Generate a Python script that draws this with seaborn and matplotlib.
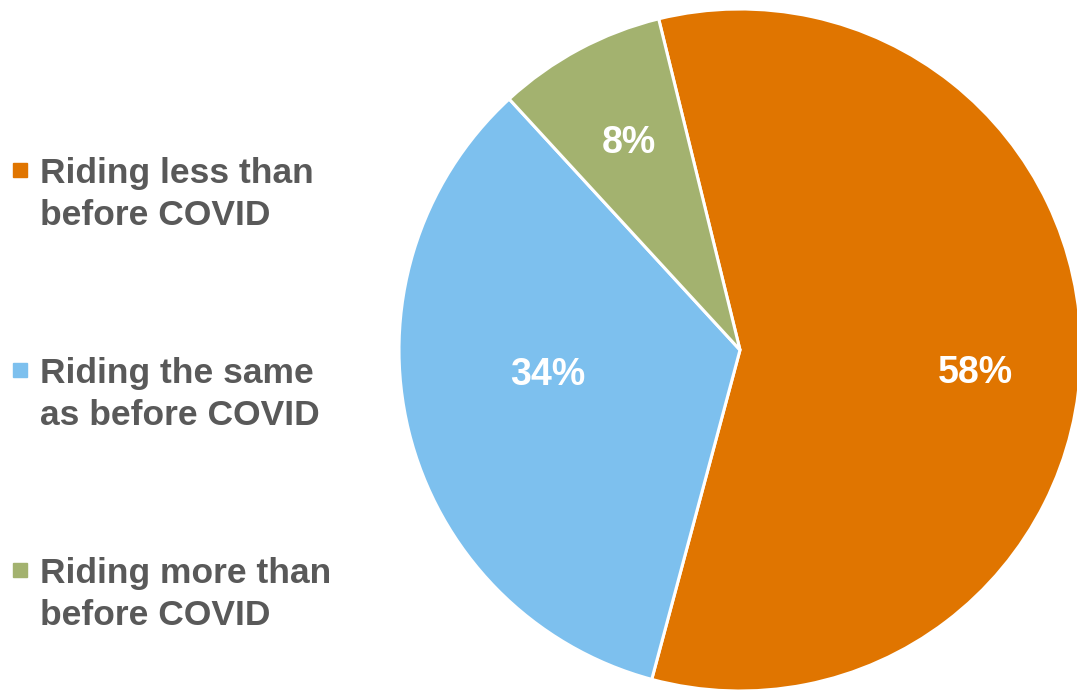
import matplotlib
matplotlib.use("Agg")
import matplotlib.pyplot as plt
import seaborn as sns
from matplotlib.patches import Rectangle

categories = ["Riding less than\nbefore COVID",
              "Riding the same\nas before COVID",
              "Riding more than\nbefore COVID"]
shares = [58, 34, 8]
colors = ["#E07500", "#7DC0EE", "#A3B26F"]

sns.set_theme(style="white")
plt.rcParams['font.family'] = ['Liberation Sans', 'DejaVu Sans']

fig = plt.figure(figsize=(10.77, 6.93), dpi=100)
# pie centre ~ (740, 350) px, radius ~ 341 px
ax = fig.add_axes([399 / 1077, 2 / 693, 682 / 1077, 682 / 693])

wedges, texts, autotexts = ax.pie(
    shares, colors=colors, startangle=103.8, counterclock=False,
    autopct="%1.0f%%", pctdistance=0.69,
    wedgeprops={'edgecolor': 'white', 'linewidth': 2.2},
    textprops={'color': 'white', 'fontsize': 27, 'fontweight': 'bold'})
ax.set_xlim(-1, 1)
ax.set_ylim(-1, 1)
ax.set_aspect('equal')

# Excel puts the blue label a bit closer to the centre
x, y = autotexts[1].get_position()
autotexts[1].set_position((x * 0.84, y * 0.45))
x, y = autotexts[0].get_position()
autotexts[0].set_position((x, y - 0.06))

# legend drawn by hand so the marker sits on the first line
tops = [157, 357, 557]
for label, col, top in zip(categories, colors, tops):
    fig.text(40 / 1077, 1 - top / 693, label, fontsize=25.5, fontweight='bold',
             color='#595959', va='top', ha='left', linespacing=1.33)
    fig.add_artist(Rectangle((13 / 1077, 1 - (top + 20) / 693), 14 / 1077, 14 / 693,
                             transform=fig.transFigure, color=col))

fig.savefig("out.png", dpi=100)
